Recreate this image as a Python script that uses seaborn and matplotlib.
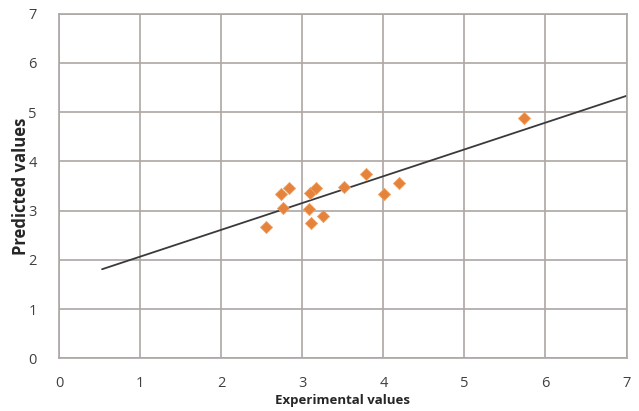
import matplotlib
matplotlib.use("Agg")
import matplotlib.pyplot as plt
import seaborn as sns
import pandas as pd

exp_values = [2.55, 2.74, 2.84, 2.76, 3.09, 3.17, 3.08, 3.11, 3.25, 3.52, 3.79, 4.01, 4.19, 5.74]
pred_values = [2.67, 3.33, 3.46, 3.05, 3.36, 3.46, 3.04, 2.74, 2.89, 3.47, 3.75, 3.33, 3.56, 4.87]
fit_x = [0.53, 7.0]
fit_y = [1.81, 5.33]
ticks = [0, 1, 2, 3, 4, 5, 6, 7]

sns.set_theme(style="white")
plt.rcParams['font.family'] = ['Open Sans', 'DejaVu Sans']

df = pd.DataFrame({"x": exp_values, "y": pred_values})
fit = pd.DataFrame({"x": fit_x, "y": fit_y})

fig = plt.figure(figsize=(6.39, 4.11), dpi=100)
ax = fig.add_axes([0.0925, 0.128, 0.888, 0.839])

grid_c = "#ADA6A3"
ax.set_xlim(0, 7)
ax.set_ylim(0, 7)
ax.set_xticks(ticks)
ax.set_yticks(ticks)
ax.grid(True, color=grid_c, linewidth=1.2)
ax.set_axisbelow(True)
for s in ax.spines.values():
    s.set_color(grid_c)
    s.set_linewidth(1.2)

sns.lineplot(data=fit, x="x", y="y", ax=ax, color="#3A3A3A", linewidth=1.3)
sns.scatterplot(data=df, x="x", y="y", ax=ax, marker="D", s=38,
                color="#E5823C", edgecolor="#F0A060", linewidth=0.6, zorder=3)

ax.tick_params(axis="both", length=0, labelsize=10.5, labelcolor="#404040")
ax.tick_params(axis="x", pad=13)
ax.tick_params(axis="y", pad=16)
ax.set_xlabel("Experimental values", fontsize=9.5, fontweight="bold", color="#262626")
ax.set_ylabel("Predicted values", fontsize=12, fontweight="bold", color="#262626")
ax.xaxis.set_label_coords(0.5, -0.102)
ax.yaxis.set_label_coords(-0.052, 0.5)

fig.savefig("out.png", dpi=100, facecolor="white")
